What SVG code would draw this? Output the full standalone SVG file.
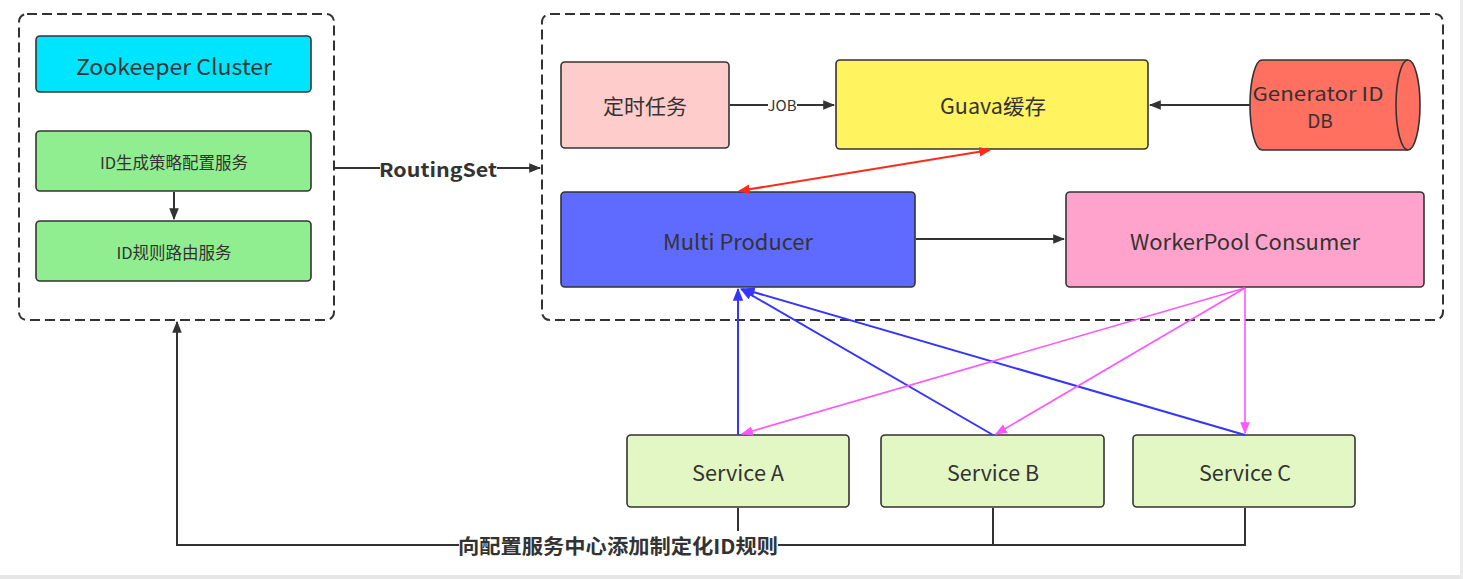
<svg xmlns="http://www.w3.org/2000/svg" width="1463" height="579" viewBox="0 0 1463 579">
<style>
text{font-family:"Noto Sans CJK SC","Noto Sans",sans-serif;fill:#333;text-anchor:middle;dominant-baseline:central}
.node{stroke:#333;stroke-width:1.6}
.cont{fill:none;stroke:#333;stroke-width:2;stroke-dasharray:10 5}
.dk{fill:none;stroke:#333;stroke-width:2}
.bl{fill:none;stroke:#3535FF;stroke-width:2}
.mg{fill:none;stroke:#FF55FF;stroke-width:1.6}
.rd{fill:none;stroke:#FF2A1A;stroke-width:2.2}
</style>
<defs>
<marker id="aDkL" viewBox="0 0 10 10" refX="9" refY="5" markerWidth="12" markerHeight="12" markerUnits="userSpaceOnUse" orient="auto-start-reverse"><path d="M0,1 L10,5 L0,9 z" fill="#333"/></marker>
<marker id="aBl" viewBox="0 0 10 10" refX="9" refY="5" markerWidth="13" markerHeight="13" markerUnits="userSpaceOnUse" orient="auto-start-reverse"><path d="M0,1 L10,5 L0,9 z" fill="#3535FF"/></marker>
<marker id="aMg" viewBox="0 0 10 10" refX="9" refY="5" markerWidth="12" markerHeight="12" markerUnits="userSpaceOnUse" orient="auto-start-reverse"><path d="M0,1 L10,5 L0,9 z" fill="#FF55FF"/></marker>
<marker id="aRd" viewBox="0 0 10 10" refX="9" refY="5" markerWidth="12" markerHeight="12" markerUnits="userSpaceOnUse" orient="auto-start-reverse"><path d="M0,1 L10,5 L0,9 z" fill="#FF2A1A"/></marker>
</defs>
<rect x="0" y="0" width="1463" height="579" fill="#fff"/>
<rect x="0" y="575" width="1463" height="4" fill="#e6e6e6"/>
<rect x="1460" y="0" width="3" height="579" fill="#ececec"/>

<g id="left-container"><rect class="cont" x="19" y="14" width="315" height="306" rx="8"/></g>
<g id="right-container"><rect class="cont" x="542" y="14" width="901" height="306" rx="8"/></g>

<g id="zookeeper"><rect class="node" x="36" y="36" width="275" height="56" rx="4" fill="#00E5FF"/><text x="174" y="65" font-size="22" textLength="196" lengthAdjust="spacingAndGlyphs">Zookeeper Cluster</text></g>
<g id="id-config"><rect class="node" x="36" y="131" width="275" height="60" rx="4" fill="#90EE90"/><text x="174" y="162" font-size="16.5">ID生成策略配置服务</text></g>
<g id="id-route"><rect class="node" x="36" y="221" width="275" height="60" rx="4" fill="#90EE90"/><text x="174" y="252" font-size="16.5">ID规则路由服务</text></g>

<g id="timer"><rect class="node" x="561" y="62" width="168" height="86" rx="4" fill="#FFCCCC"/><text x="645" y="105" font-size="21">定时任务</text></g>
<g id="guava"><rect class="node" x="836" y="60" width="312" height="89" rx="4" fill="#FFF35F"/><text x="993" y="105" font-size="21" textLength="106" lengthAdjust="spacingAndGlyphs">Guava缓存</text></g>
<g id="db"><path class="node" fill="#FF7060" d="M1262,60 L1408,60 A12,45 0 0 1 1408,150 L1262,150 A12,45 0 0 1 1262,60 Z"/><path class="node" fill="none" d="M1408,60 A12,45 0 0 0 1408,150"/><text x="1318" y="92" font-size="19" textLength="131" lengthAdjust="spacingAndGlyphs">Generator ID</text><text x="1320" y="119" font-size="19">DB</text></g>
<g id="producer"><rect class="node" x="561" y="192" width="354" height="95" rx="4" fill="#5F6BFF"/><text x="738" y="241" font-size="21" textLength="150" lengthAdjust="spacingAndGlyphs">Multi Producer</text></g>
<g id="consumer"><rect class="node" x="1066" y="192" width="358" height="95" rx="4" fill="#FFA3CC"/><text x="1245" y="241" font-size="21" textLength="230" lengthAdjust="spacingAndGlyphs">WorkerPool Consumer</text></g>
<g id="svcA"><rect class="node" x="627" y="435" width="222" height="72" rx="4" fill="#E3F7C5"/><text x="738" y="472" font-size="21" textLength="92" lengthAdjust="spacingAndGlyphs">Service A</text></g>
<g id="svcB"><rect class="node" x="881" y="435" width="223" height="72" rx="4" fill="#E3F7C5"/><text x="993" y="472" font-size="21" textLength="92" lengthAdjust="spacingAndGlyphs">Service B</text></g>
<g id="svcC"><rect class="node" x="1133" y="435" width="222" height="72" rx="4" fill="#E3F7C5"/><text x="1245" y="472" font-size="21" textLength="92" lengthAdjust="spacingAndGlyphs">Service C</text></g>

<g id="connectors">
<path class="dk" d="M174,192 L174,219" marker-end="url(#aDkL)"/>
<path class="dk" d="M335,168 L380,168"/>
<path class="dk" d="M497,168 L540,168" marker-end="url(#aDkL)"/>
<text x="438" y="168" font-size="19" font-weight="bold" textLength="118" lengthAdjust="spacingAndGlyphs">RoutingSet</text>
<path class="dk" d="M730,105 L768,105"/>
<path class="dk" d="M797,105 L834,105" marker-end="url(#aDkL)"/>
<text x="782" y="105" font-size="14" textLength="29" lengthAdjust="spacingAndGlyphs">JOB</text>
<path class="dk" d="M1250,105 L1150,105" marker-end="url(#aDkL)"/>
<path class="rd" d="M990,150 L739,191" marker-start="url(#aRd)" marker-end="url(#aRd)"/>
<path class="dk" d="M916,239 L1064,239" marker-end="url(#aDkL)"/>
<path class="bl" d="M738,435 L738,289" marker-end="url(#aBl)"/>
<path class="bl" d="M993,435 L741,289" marker-end="url(#aBl)"/>
<path class="bl" d="M1245,435 L743,289" marker-end="url(#aBl)"/>
<path class="mg" d="M1245,288 L742,434" marker-end="url(#aMg)"/>
<path class="mg" d="M1245,288 L996,434" marker-end="url(#aMg)"/>
<path class="mg" d="M1245,288 L1245,433" marker-end="url(#aMg)"/>
<path class="dk" d="M738,508 L738,531 M993,508 L993,545 M1245,508 L1245,545 L778,545"/>
<path class="dk" d="M459,545 L177,545 L177,322" marker-end="url(#aDkL)"/>
<text x="618" y="545" font-size="20" font-weight="bold" textLength="320" lengthAdjust="spacingAndGlyphs">向配置服务中心添加制定化ID规则</text>
</g>
</svg>
